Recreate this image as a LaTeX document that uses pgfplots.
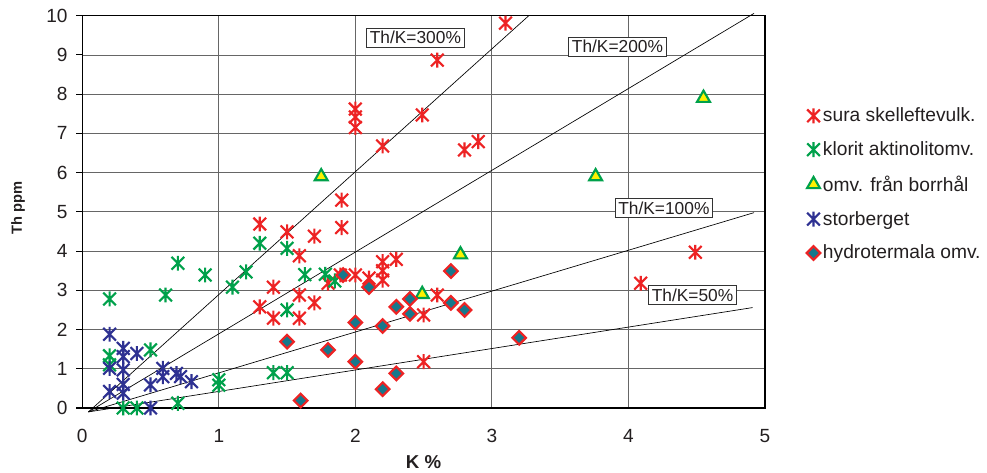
\documentclass[border=0pt]{standalone}
\usepackage{pgfplots}
\pgfplotsset{compat=1.18}
\usepackage{fontspec}
\setmainfont{Liberation Sans}
\definecolor{cred}{RGB}{237,35,36}
\definecolor{cgreen}{RGB}{0,161,75}
\definecolor{cblue}{RGB}{46,49,146}
\definecolor{cyellow}{RGB}{255,242,0}
\definecolor{cteal}{RGB}{22,120,140}
\definecolor{ctext}{RGB}{35,31,32}
\pgfdeclareplotmark{ast}{%
  \pgfpathmoveto{\pgfpoint{0pt}{-\pgfplotmarksize}}%
  \pgfpathlineto{\pgfpoint{0pt}{\pgfplotmarksize}}%
  \pgfpathmoveto{\pgfpoint{-0.85\pgfplotmarksize}{-0.85\pgfplotmarksize}}%
  \pgfpathlineto{\pgfpoint{0.85\pgfplotmarksize}{0.85\pgfplotmarksize}}%
  \pgfpathmoveto{\pgfpoint{-0.85\pgfplotmarksize}{0.85\pgfplotmarksize}}%
  \pgfpathlineto{\pgfpoint{0.85\pgfplotmarksize}{-0.85\pgfplotmarksize}}%
  \pgfusepathqstroke}
\pgfplotstableread{
x y
3.10 9.81
2.60 8.87
2.00 7.62
2.00 7.42
2.00 7.15
2.49 7.47
2.20 6.68
2.80 6.58
2.90 6.79
1.90 5.30
1.90 4.60
1.30 4.69
1.50 4.49
1.70 4.38
1.59 3.88
1.40 3.08
1.30 2.58
1.40 2.29
1.59 2.88
1.59 2.29
1.70 2.68
1.80 3.18
1.89 3.39
2.00 3.39
2.10 3.31
2.20 3.73
2.20 3.50
2.20 3.26
2.30 3.79
2.60 2.88
2.50 2.37
2.50 1.18
4.09 3.18
4.49 3.97
}\sura
\pgfplotstableread{
x y
0.20 2.78
0.61 2.88
0.70 3.69
0.90 3.39
1.10 3.08
1.20 3.47
1.30 4.20
1.50 4.07
1.50 2.50
1.63 3.40
1.78 3.41
1.85 3.24
1.40 0.90
1.50 0.90
1.00 0.72
1.00 0.58
0.50 1.48
0.20 1.33
0.20 1.10
0.30 0.00
0.40 0.00
0.70 0.12
}\klorit
\pgfplotstableread{
x y
4.55 7.90
1.75 5.90
3.76 5.90
2.77 3.91
2.49 2.90
}\borr
\pgfplotstableread{
x y
0.20 1.88
0.20 1.01
0.20 0.42
0.30 1.52
0.30 1.31
0.30 0.97
0.30 0.60
0.30 0.38
0.40 1.39
0.50 0.59
0.50 0.00
0.59 1.01
0.59 0.80
0.69 0.88
0.72 0.80
0.80 0.67
}\storb
\pgfplotstableread{
x y
1.91 3.39
2.10 3.08
2.70 3.49
2.40 2.78
2.30 2.58
2.40 2.40
2.70 2.68
2.80 2.50
2.00 2.18
2.20 2.09
1.80 1.48
1.50 1.69
2.00 1.18
2.30 0.88
2.20 0.48
1.60 0.19
3.20 1.79
}\hydro
\begin{document}
\begin{tikzpicture}
\path[use as bounding box] (0pt,0pt) rectangle (740.25pt,354.75pt);
\begin{axis}[
  at={(61.7pt,48.75pt)}, anchor=south west,
  scale only axis, width=512pt, height=294.2pt,
  xmin=0, xmax=5, ymin=0, ymax=10,
  xtick={0,1,2,3,4,5}, ytick={0,1,...,10},
  /pgf/number format/assume math mode=true,
  grid=major, major grid style={black!60, line width=0.6pt},
  axis line style={black, line width=0.9pt},
  tick align=outside, tick pos=left,
  major tick length=4.5pt,
  ytick style={black, line width=0.8pt},
  xtick style={draw=none},
  ticklabel style={font=\fontsize{14.3}{17}\selectfont, text=ctext},
  xticklabel style={yshift=-8pt},
  yticklabel style={xshift=-3pt},
  xlabel={\textbf{K \%}},
  xlabel style={at={(axis description cs:0.5,-0.139)}, anchor=center, font=\fontsize{14}{16}\selectfont, text=ctext},
  ylabel={\textbf{Th ppm}},
  ylabel style={at={(axis description cs:-0.094,0.511)}, anchor=center, font=\fontsize{11}{13}\selectfont, text=ctext},
  clip=false,
  legend style={at={(1.055,0.57)}, anchor=west, draw=none, fill=none,
    font=\fontsize{14.4}{17}\selectfont, text=ctext, row sep=9.5pt},
  legend cell align=left,
]
% ratio lines
\addplot[black, line width=0.5pt, forget plot] coordinates {(0.045,-0.1) (3.27,10.0)};
\addplot[black, line width=0.5pt, forget plot] coordinates {(0.045,-0.1) (4.92,10.06)};
\addplot[black, line width=0.5pt, forget plot] coordinates {(0.045,-0.1) (4.92,4.98)};
\addplot[black, line width=0.5pt, forget plot] coordinates {(0.045,-0.1) (4.91,2.56)};
% series
\addplot[only marks, mark=ast, mark size=5.6pt, draw=cred, line width=1.6pt] table {\sura};
\addlegendentry{sura skelleftevulk.}
\addplot[only marks, mark=ast, mark size=5.6pt, draw=cgreen, line width=1.6pt] table {\klorit};
\addlegendentry{klorit aktinolitomv.}
\addplot[only marks, mark=triangle*, mark size=5.6pt, draw=cgreen, fill=cyellow, line width=1.6pt] table {\borr};
\addlegendentry{omv. från borrhål}
\addplot[only marks, mark=ast, mark size=5.6pt, draw=cblue, line width=1.6pt] table {\storb};
\addlegendentry{storberget}
\addplot[only marks, mark=square*, mark size=3.6pt, mark options={rotate=45}, draw=cred, fill=cteal, line width=1.6pt] table {\hydro};
\addlegendentry{hydrotermala omv.}
% labels
\node[draw=black!80, line width=0.5pt, fill=white, inner sep=2.5pt, font=\fontsize{13}{15}\selectfont, text=ctext] at (axis cs:2.44,9.44) {Th/K=300\%};
\node[draw=black!80, line width=0.5pt, fill=white, inner sep=2.5pt, font=\fontsize{13}{15}\selectfont, text=ctext] at (axis cs:3.92,9.21) {Th/K=200\%};
\node[draw=black!80, line width=0.5pt, fill=white, inner sep=2.5pt, font=\fontsize{13}{15}\selectfont, text=ctext] at (axis cs:4.26,5.10) {Th/K=100\%};
\node[draw=black!80, line width=0.5pt, fill=white, inner sep=2.5pt, font=\fontsize{13}{15}\selectfont, text=ctext] at (axis cs:4.47,2.88) {Th/K=50\%};
\end{axis}
\end{tikzpicture}
\end{document}
